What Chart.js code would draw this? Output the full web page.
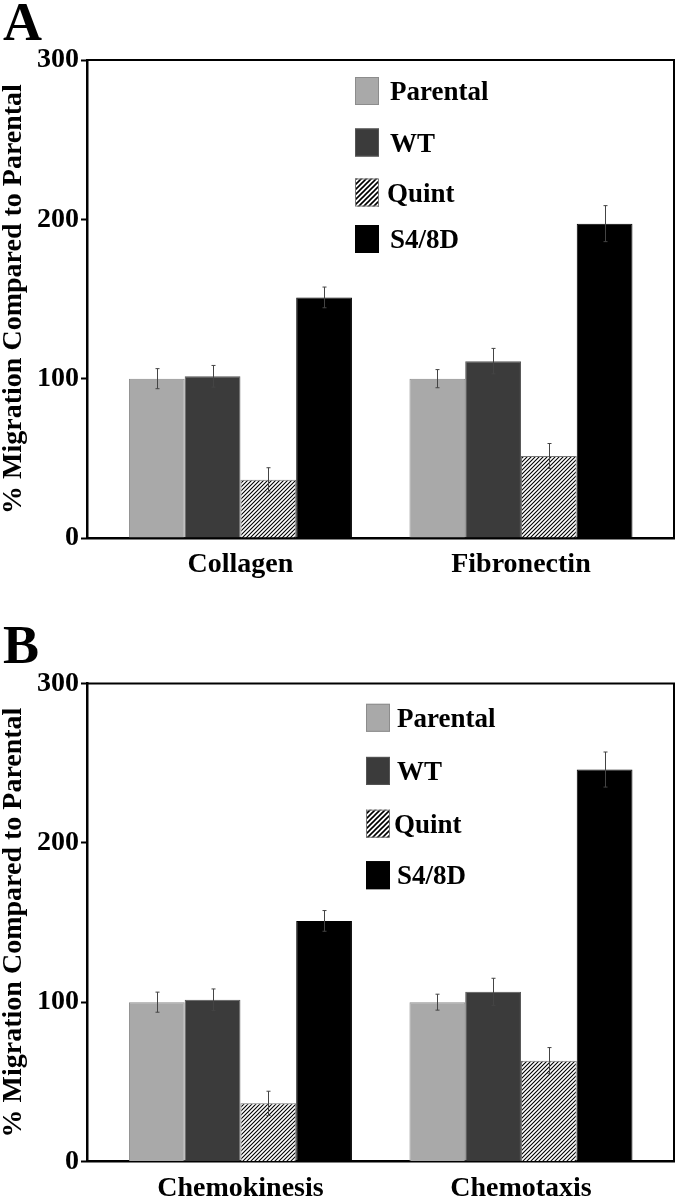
<!DOCTYPE html>
<html>
<head>
<meta charset="utf-8">
<script src="https://cdn.jsdelivr.net/npm/chart.js@4.4.1/dist/chart.umd.min.js"></script>
<style>
	html, body { margin: 0; padding: 0; background: #fff; }
	body { width: 676px; height: 1199px; overflow: hidden; }
	canvas { display: block; }
</style>
</head>
<body>
<canvas id="panelA" width="676" height="600"></canvas>
<canvas id="panelB" width="676" height="599"></canvas>
<script>
const seriesNames = ['Parental', 'WT', 'Quint', 'S4/8D'];
const yTicks = [0, 100, 200, 300];

// panel A - substrates
const substrateLabels = ['Collagen', 'Fibronectin'];
const substrateParental = [100, 100];
const substrateWT = [101.5, 111];
const substrateQuint = [36.5, 51.5];
const substrateS48D = [151, 197.3];
const substrateParentalErr = [6.3, 5.7];
const substrateWTErr = [6.8, 8];
const substrateQuintErr = [7.6, 7.8];
const substrateS48DErr = [6.5, 11.3];

// panel B - migration mode
const modeLabels = ['Chemokinesis', 'Chemotaxis'];
const modeParental = [100, 100];
const modeWT = [101.5, 106.5];
const modeQuint = [36.5, 63.3];
const modeS48D = [151, 246];
const modeParentalErr = [6.3, 5];
const modeWTErr = [6.8, 8.5];
const modeQuintErr = [7.6, 8.2];
const modeS48DErr = [6.5, 11];

const FONT = '"Liberation Serif", "DejaVu Serif", serif';

function hatch(size, lw) {
	const c = document.createElement('canvas');
	c.width = c.height = size;
	const g = c.getContext('2d');
	g.fillStyle = '#fff';
	g.fillRect(0, 0, size, size);
	g.strokeStyle = '#000';
	g.lineWidth = lw;
	g.beginPath();
	g.moveTo(-1, size + 1); g.lineTo(size + 1, -1);
	g.moveTo(-1, 1); g.lineTo(1, -1);
	g.moveTo(size - 1, size + 1); g.lineTo(size + 1, size - 1);
	g.stroke();
	return g.createPattern(c, 'repeat');
}

const errorBars = {
	id: 'errorBars',
	afterDatasetsDraw(chart) {
		const ctx = chart.ctx;
		const y = chart.scales.y;
		ctx.save();
		ctx.strokeStyle = '#444';
		ctx.lineWidth = 1;
		chart.data.datasets.forEach((ds, i) => {
			chart.getDatasetMeta(i).data.forEach((bar, j) => {
				const v = ds.data[j].y, e = ds.err[j];
				const top = y.getPixelForValue(v + e), bot = y.getPixelForValue(v - e);
				const x = Math.round(bar.x) + 0.5;
				ctx.beginPath();
				ctx.moveTo(x, top); ctx.lineTo(x, bot);
				ctx.moveTo(x - 2, top); ctx.lineTo(x + 2, top);
				ctx.moveTo(x - 2, bot); ctx.lineTo(x + 2, bot);
				ctx.stroke();
			});
		});
		ctx.restore();
	}
};

const frameAndLegend = {
	id: 'frameAndLegend',
	afterDraw(chart, args, opts) {
		const ctx = chart.ctx;
		const a = chart.chartArea;
		ctx.save();
		// top and right border
		ctx.strokeStyle = '#000';
		ctx.lineWidth = 2;
		ctx.beginPath();
		ctx.moveTo(a.left, a.top); ctx.lineTo(a.right, a.top); ctx.lineTo(a.right, a.bottom);
		ctx.stroke();

		// legend inside the plot
		ctx.font = 'bold 27px ' + FONT;
		ctx.textBaseline = 'alphabetic';
		chart.data.datasets.forEach((ds, i) => {
			const cy = a.top + opts.rows[i];
			ctx.fillStyle = ds.legendFill || ds.backgroundColor;
			ctx.fillRect(opts.x, cy - 14, 24, 28);
			ctx.strokeStyle = ds.borderColor;
			ctx.lineWidth = 1;
			ctx.strokeRect(opts.x + 0.5, cy - 13.5, 23, 27);
			ctx.fillStyle = '#000';
			ctx.fillText(ds.label, opts.textX + (i === 2 ? -3 : 0), cy + 9);
		});

		// panel letter
		ctx.font = 'bold 54px ' + FONT;
		ctx.fillText(opts.letter, 3, opts.letterY);
		ctx.restore();
	}
};

function drawPanel(id, cats, values, errors, geo) {
	const fills = ['#a9a9a9', '#3b3b3b', hatch(4, 1.1), '#000'];
	const borders = ['#8c8c8c', '#555', '#777', '#000'];
	const datasets = seriesNames.map((name, i) => ({
		label: name,
		data: values[i].map((v, j) => ({ x: j, y: v })),
		err: errors[i],
		backgroundColor: fills[i],
		legendFill: i === 2 ? hatch(5, 1.6) : null,
		borderColor: borders[i],
		borderWidth: 1,
		categoryPercentage: 0.795,
		barPercentage: 1
	}));

	return new Chart(document.getElementById(id), {
		type: 'bar',
		data: { datasets: datasets },
		plugins: [errorBars, frameAndLegend],
		options: {
			responsive: false,
			animation: false,
			events: [],
			layout: { padding: { top: geo.top, right: 2, left: 0, bottom: 0 } },
			plugins: {
				legend: { display: false },
				tooltip: { enabled: false },
				frameAndLegend: { x: geo.legendX, textX: geo.legendTextX, rows: geo.rows, letter: geo.letter, letterY: geo.letterY }
			},
			scales: {
				x: {
					type: 'linear',
					offset: false,
					min: -0.547,
					max: 1.5455,
					afterBuildTicks: s => { s.ticks = cats.map((c, j) => ({ value: j })); },
					afterFit: s => { s.height = geo.xHeight; },
					ticks: {
						callback: v => cats[v],
						font: { family: FONT, size: 28, weight: 'bold' },
						color: '#000',
						padding: 10,
						autoSkip: false,
						maxRotation: 0
					},
					grid: { display: false, drawTicks: false },
					border: { color: '#000', width: 2.5 }
				},
				y: {
					min: 0,
					max: 300,
					afterBuildTicks: s => { s.ticks = yTicks.map(v => ({ value: v })); },
					afterFit: s => { s.width = 87; },
					ticks: {
						font: { family: FONT, size: 28, weight: 'bold' },
						color: '#000',
						padding: 2
					},
					grid: { drawOnChartArea: false, tickLength: 6, tickColor: '#000', tickWidth: 2 },
					border: { color: '#000', width: 2.5 },
					title: {
						display: true,
						text: '% Migration Compared to Parental',
						font: { family: FONT, size: 28, weight: 'bold', lineHeight: 1 },
						color: '#000',
						padding: { top: 0, bottom: 0 }
					}
				}
			}
		}
	});
}

drawPanel('panelA', substrateLabels,
	[substrateParental, substrateWT, substrateQuint, substrateS48D],
	[substrateParentalErr, substrateWTErr, substrateQuintErr, substrateS48DErr],
	{ top: 60, xHeight: 62, legendX: 355, legendTextX: 390, rows: [31, 82.5, 132.5, 179], letter: 'A', letterY: 40 });

drawPanel('panelB', modeLabels,
	[modeParental, modeWT, modeQuint, modeS48D],
	[modeParentalErr, modeWTErr, modeQuintErr, modeS48DErr],
	{ top: 83.5, xHeight: 37.5, legendX: 366, legendTextX: 397, rows: [34.3, 87.4, 140.2, 191.7], letter: 'B', letterY: 63 });
</script>
</body>
</html>
